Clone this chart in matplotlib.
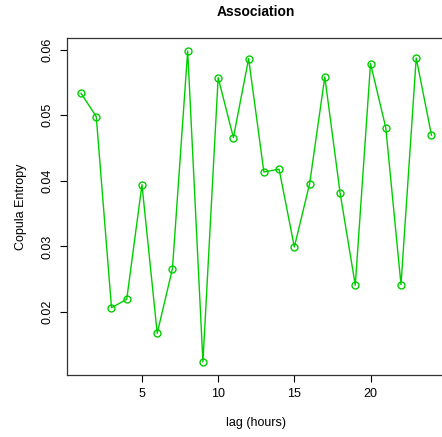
import matplotlib
matplotlib.use('Agg')
import matplotlib.pyplot as plt
import numpy as np

# лаг в часах и значения энтропии копулы
lag = np.arange(1, 25)
entropy = [0.05335, 0.04979, 0.02067, 0.02195, 0.03942, 0.01677,
           0.02662, 0.05980, 0.01239, 0.05573, 0.04659, 0.05863,
           0.04136, 0.04177, 0.02992, 0.03953, 0.05584, 0.03820,
           0.02409, 0.05787, 0.04811, 0.02418, 0.05873, 0.04695]

plt.rcParams['font.family'] = ['Liberation Sans', 'DejaVu Sans']

fig = plt.figure(figsize=(4.42, 4.37), dpi=100)
ax = fig.add_axes([0.1516, 0.143, 0.8563, 0.769])

ax.plot(lag, entropy, '-o', color='#00cd00', linewidth=1.0,
        markersize=5, markerfacecolor='none', markeredgewidth=1.0)

ax.set_xlim(0.08, 24.92)
ax.set_ylim(0.01049, 0.0617)
ax.set_xticks([5, 10, 15, 20])
ax.set_yticks([0.02, 0.03, 0.04, 0.05, 0.06])
ax.set_yticklabels(['0.02', '0.03', '0.04', '0.05', '0.06'], rotation=90, va='center')

ax.tick_params(direction='out', length=5, width=0.8, labelsize=9, pad=5)
for s in ax.spines.values():
    s.set_linewidth(0.9)
    s.set_color('#333333')

ax.set_title('Association', fontsize=10, fontweight='bold', pad=16)
ax.set_xlabel('lag (hours)', fontsize=9, labelpad=12)
ax.set_ylabel('Copula Entropy', fontsize=9, labelpad=10)

fig.savefig('out.png', dpi=100)
